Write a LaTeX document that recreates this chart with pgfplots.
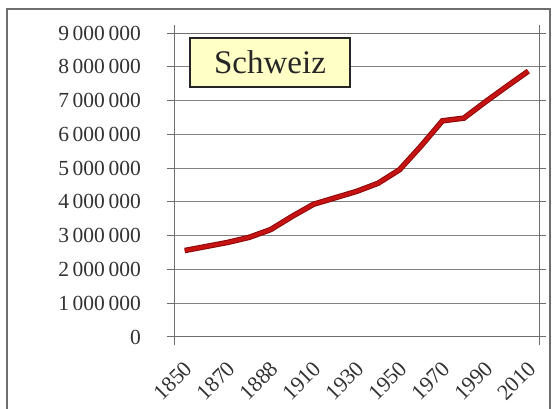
\documentclass[border=0pt]{standalone}
\usepackage{pgfplots}
\usepackage{pgfplotstable}
\pgfplotsset{compat=1.18}
\usepackage{fontspec}
\setmainfont{Liberation Serif}
\definecolor{gridgray}{RGB}{130,130,130}
\definecolor{axisgray}{RGB}{110,110,110}
\definecolor{txt}{RGB}{50,50,50}
\definecolor{lineDark}{RGB}{140,8,8}
\definecolor{lineRed}{RGB}{198,18,18}
\definecolor{boxfill}{RGB}{255,255,198}
\pgfplotstableread{
idx val
0 2560000
1 2680000
2 2800000
3 2950000
4 3180000
5 3570000
6 3930000
7 4120000
8 4310000
9 4550000
10 4950000
11 5650000
12 6400000
13 6480000
14 6960000
15 7420000
16 7870000
}\swiss
\begin{document}
\begin{tikzpicture}
\path[use as bounding box] (0,0) rectangle (552pt,409pt);
\draw[line width=1.4pt, axisgray] (7pt,-5pt) rectangle (550pt,400pt);
\begin{axis}[
  scale only axis,
  width=365pt, height=304pt,
  at={(174pt,72pt)}, anchor=south west,
  xmin=-0.5, xmax=16.5,
  ymin=0, ymax=9000000,
  axis line style={axisgray, line width=1pt},
  ytick={0,1000000,...,9000000},
  scaled y ticks=false,
  ymajorgrids,
  major grid style={gridgray, line width=1pt},
  y tick label style={/pgf/number format/fixed, /pgf/number format/1000 sep={\,}},
  /pgf/number format/assume math mode=true,
  tick align=outside,
  major tick length=7pt,
  every tick/.style={axisgray, line width=1pt},
  yticklabel style={anchor=east, inner sep=0pt, xshift=-26pt, text=txt, font=\fontsize{21.5}{25}\selectfont},
  xtick={0,2,...,16},
  xticklabels={1850,1870,1888,1910,1930,1950,1970,1990,2010},
  x tick style={draw=none},
  xticklabel style={xshift=4pt, yshift=-21pt, rotate=45, anchor=east, inner sep=0pt, text=txt, font=\fontsize{22}{25}\selectfont},
  extra x ticks={-0.5,16.5},
  extra x tick labels={},
  extra x tick style={x tick style={draw=axisgray, line width=1pt}, major tick length=8pt},
  clip=false,
]
\addplot[lineDark, line width=5.5pt] table[x=idx, y=val] {\swiss};
\addplot[lineRed, line width=3.5pt] table[x=idx, y=val] {\swiss};
\end{axis}
\node[draw=black!85, line width=1.2pt, fill=boxfill, minimum width=160pt, minimum height=49pt, inner sep=0pt, text=black!85, font=\fontsize{33}{38}\selectfont] at (270pt,346.5pt) {Schweiz};
\end{tikzpicture}
\end{document}
